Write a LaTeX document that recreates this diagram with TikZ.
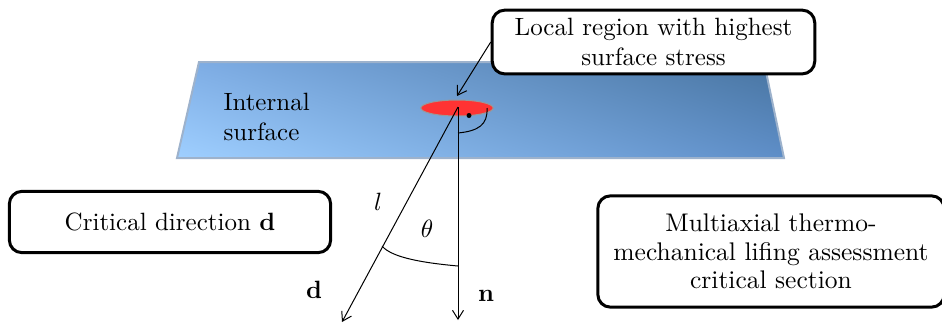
\documentclass[tikz,border=0pt]{standalone}
\usepackage{amsmath,amssymb,amsfonts}
\usepackage{xcolor}
\usepackage{tikz}
\usetikzlibrary{shadings,shapes.geometric,arrows.meta}
\definecolor{surflight}{HTML}{9FCFFF}
\definecolor{surfdark}{HTML}{47739F}
\definecolor{surfmidl}{HTML}{7FAEE6}
\definecolor{surfmidr}{HTML}{5E8EC8}
\definecolor{surfedge}{HTML}{9DB2CC}
\definecolor{spotred}{HTML}{FF3333}
\tikzset{
  notebox/.style={draw=black,line width=1.2pt,rounded corners=5pt,fill=white,inner sep=0pt,align=center},
  conn/.style={-{Straight Barb[length=3.5pt,width=4.4pt]},line width=0.4pt,black}
}
\begin{document}
\begin{tikzpicture}[x=0.4pt,y=-0.4pt]
          \useasboundingbox (0,0) rectangle (942,322);
          \shade[lower left=surflight,lower right=surfmidr,upper left=surfmidl,upper right=surfdark,draw=surfedge,line width=0.8pt] (199,62) -- (764,62) -- (784,158) -- (177,158) -- cycle;
          \node[draw=black!40,fill=spotred,ellipse,minimum width=29pt,minimum height=6.4pt,inner sep=0pt] (spot) at (457,108) {};
          \fill (469,115.5) circle (1pt);
          \node[anchor=west,align=left,inner sep=0pt] (surface) at (223,117) {Internal\\surface};
          % boxes
          \node[notebox,minimum width=129pt,minimum height=25.5pt] (region) at (653.5,42) {Local region with highest\\surface stress};
          \node[notebox,minimum width=128.5pt,minimum height=24.5pt] (critical) at (170,222) {Critical direction $\mathbf{d}$};
          \node[notebox,minimum width=138.5pt,minimum height=44.5pt,font=\fontsize{10.2}{11.5}\selectfont] (lifing) at (771,251.5) {Multiaxial thermo-\\mechanical lifing assessment\\critical section};
          % arrows
          \coordinate (origin) at (458,107);
          \coordinate (dend) at (342,322);
          \coordinate (nend) at (458,320);
          \coordinate (target) at (457,96);
          \draw[conn] (region.west) -- (target);
          \draw[conn] (origin) -- (dend);
          \draw[conn] (origin) -- (nend);
          \coordinate (thetaa) at (382,246);
          \coordinate (thetab) at (458,266);
          \draw (thetaa) .. controls (392,258) and (425,263) .. (thetab);
          \coordinate (righta) at (487,108);
          \coordinate (rightb) at (458,133);
          \draw (righta) .. controls (488,125) and (478,131) .. (rightb);
          \node (lenlabel) at (378,202) {$l$};
          \node (anglabel) at (427,229) {$\theta$};
          \node (dlabel) at (314,290) {$\mathbf{d}$};
          \node (nlabel) at (486,296) {$\mathbf{n}$};
        \end{tikzpicture}
\end{document}
